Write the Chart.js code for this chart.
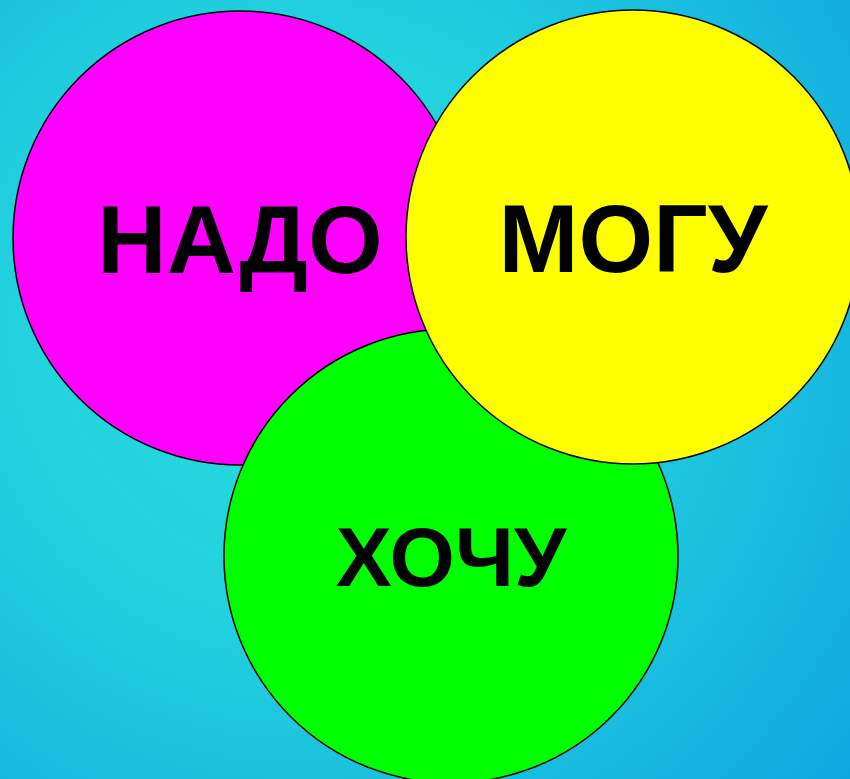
<!DOCTYPE html>
<html>
<head>
<meta charset="utf-8">
<script src="https://cdn.jsdelivr.net/npm/chart.js@4/dist/chart.umd.min.js"></script>
<style>
  html, body { margin: 0; padding: 0; background: #1fc8e0; overflow: hidden; }
  #wrap { width: 850px; height: 779px; }
</style>
</head>
<body>
<div id="wrap"><canvas id="chart" width="850" height="779"></canvas></div>
<script>
// circles in drawing order (bottom to top)
const labels = ['НАДО', 'ХОЧУ', 'МОГУ'];
const centerX = [240, 451, 633];
const centerY = [238, 556, 237];
const radius = [227, 227, 227];
const fills = ['#ff00ff', '#00ff00', '#ffff00'];
const labelSizes = [96, 84, 96];

const points = labels.map((l, i) => ({ x: centerX[i], y: centerY[i], r: radius[i] }));

// radial background behind the circles
const backdrop = {
  id: 'backdrop',
  beforeDraw(chart) {
    const { ctx, width, height } = chart;
    const g = ctx.createRadialGradient(300, 330, 0, 300, 330, 720);
    g.addColorStop(0, '#2adada');
    g.addColorStop(0.4, '#22d2de');
    g.addColorStop(1, '#0fa6e0');
    ctx.save();
    ctx.fillStyle = g;
    ctx.fillRect(0, 0, width, height);
    ctx.restore();
  },
};

// words in the middle of each circle
const words = {
  id: 'words',
  afterDatasetsDraw(chart) {
    const { ctx, scales } = chart;
    ctx.save();
    ctx.fillStyle = '#000';
    ctx.textAlign = 'center';
    ctx.textBaseline = 'alphabetic';
    labels.forEach((text, i) => {
      const size = labelSizes[i];
      ctx.font = `bold ${size}px "Liberation Sans", Arial, sans-serif`;
      const px = scales.x.getPixelForValue(centerX[i]);
      const py = scales.y.getPixelForValue(centerY[i]);
      ctx.fillText(text, px, py + size * 0.36);
    });
    ctx.restore();
  },
};

new Chart(document.getElementById('chart'), {
  type: 'bubble',
  data: {
    labels,
    datasets: [{
      data: points,
      backgroundColor: fills,
      borderColor: '#000',
      borderWidth: 1.5,
      hoverBorderWidth: 1.5,
      clip: false,
    }],
  },
  options: {
    responsive: false,
    animation: false,
    events: [],
    layout: { padding: 0, autoPadding: false },
    plugins: {
      legend: { display: false },
      tooltip: { enabled: false },
    },
    scales: {
      x: { type: 'linear', min: 0, max: 850, display: false },
      y: { type: 'linear', min: 0, max: 779, reverse: true, display: false },
    },
  },
  plugins: [backdrop, words],
});
</script>
</body>
</html>
